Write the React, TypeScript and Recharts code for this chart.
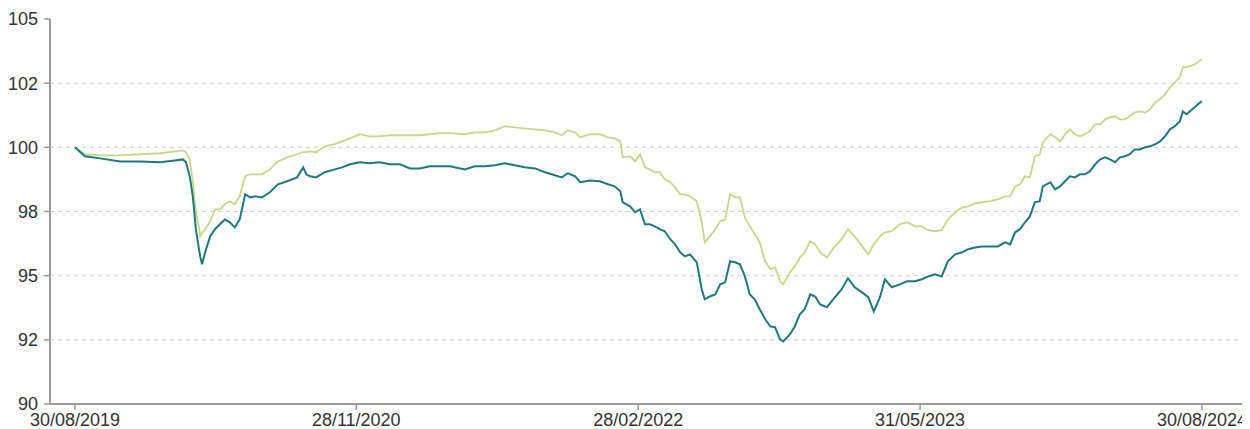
import React from 'react';
import { LineChart, Line, XAxis, YAxis, CartesianGrid } from 'recharts';

const START = Date.UTC(2019, 7, 30);
const DAY = 86400000;

// days since 30/08/2019
const dayOffsets = [
  0, 16, 41, 73, 105, 138, 162, 175, 180, 186, 191, 196, 201, 203, 206, 211, 219, 227, 235, 243,
  251, 259, 267, 276, 284, 292, 303, 316, 329, 344, 360, 370, 375, 381, 391, 405, 421, 433, 446, 462,
  478, 494, 511, 527, 543, 559, 575, 592, 608, 632, 648, 665, 681, 697, 713, 729, 746, 762, 778, 789,
  799, 811, 819, 835, 851, 864, 875, 884, 888, 900, 908, 916, 924, 932, 940, 948, 956, 965, 973, 981,
  989, 997, 1008, 1016, 1021, 1029, 1038, 1046, 1054, 1062, 1070, 1078, 1086, 1094, 1102, 1110, 1119, 1127, 1135, 1143,
  1148, 1159, 1167, 1175, 1183, 1192, 1200, 1208, 1219, 1232, 1243, 1253, 1264, 1276, 1286, 1295, 1305, 1313, 1324, 1337,
  1349, 1362, 1373, 1383, 1394, 1405, 1415, 1427, 1438, 1448, 1459, 1470, 1483, 1496, 1508, 1516, 1524, 1532, 1540, 1548,
  1556, 1564, 1569, 1581, 1589, 1597, 1605, 1613, 1621, 1629, 1637, 1645, 1654, 1662, 1670, 1678, 1686, 1694, 1702, 1710,
  1718, 1726, 1735, 1743, 1751, 1759, 1767, 1775, 1783, 1791, 1796, 1802, 1807, 1815, 1824, 1827,
];

// dark teal series
const fundValues = [
  100.0, 99.65, 99.57, 99.45, 99.45, 99.42, 99.49, 99.53, 99.42, 98.87, 98.09, 96.81, 96.03, 95.75, 95.44, 95.91, 96.53, 96.81, 97.0, 97.19,
  97.08, 96.88, 97.19, 98.17, 98.05, 98.09, 98.05, 98.25, 98.56, 98.68, 98.83, 99.22, 98.95, 98.87, 98.83, 99.03, 99.14, 99.22, 99.34, 99.42,
  99.38, 99.42, 99.34, 99.34, 99.18, 99.18, 99.26, 99.26, 99.26, 99.14, 99.26, 99.26, 99.3, 99.38, 99.3, 99.22, 99.18, 99.03, 98.91, 98.83,
  98.99, 98.87, 98.64, 98.71, 98.68, 98.56, 98.48, 98.29, 97.86, 97.7, 97.47, 97.58, 97.0, 97.0, 96.92, 96.81, 96.73, 96.42, 96.22, 95.91,
  95.75, 95.83, 95.52, 94.47, 94.08, 94.19, 94.27, 94.66, 94.74, 95.56, 95.52, 95.44, 94.97, 94.27, 94.08, 93.69, 93.3, 93.03, 92.99, 92.52,
  92.44, 92.71, 93.03, 93.49, 93.69, 94.27, 94.19, 93.88, 93.77, 94.16, 94.47, 94.9, 94.55, 94.35, 94.16, 93.61, 94.16, 94.86, 94.55, 94.66,
  94.78, 94.78, 94.86, 94.97, 95.05, 94.97, 95.56, 95.83, 95.91, 96.03, 96.1, 96.14, 96.14, 96.14, 96.3, 96.22, 96.69, 96.81, 97.08, 97.31,
  97.86, 97.9, 98.48, 98.64, 98.36, 98.48, 98.68, 98.87, 98.83, 98.95, 98.95, 99.06, 99.34, 99.53, 99.61, 99.53, 99.42, 99.61, 99.65, 99.73,
  99.92, 99.92, 100.0, 100.04, 100.12, 100.23, 100.43, 100.7, 100.82, 101.01, 101.4, 101.29, 101.4, 101.56, 101.75, 101.79,
];

// light green series
const benchmarkValues = [
  100.0, 99.73, 99.69, 99.69, 99.73, 99.77, 99.84, 99.88, 99.81, 99.53, 98.64, 97.47, 96.88, 96.53, 96.65, 96.81, 97.12, 97.58, 97.58, 97.78,
  97.9, 97.78, 98.09, 98.87, 98.95, 98.95, 98.95, 99.14, 99.45, 99.61, 99.73, 99.81, 99.81, 99.84, 99.81, 100.04, 100.12, 100.23, 100.35, 100.51,
  100.43, 100.43, 100.47, 100.47, 100.47, 100.47, 100.51, 100.55, 100.55, 100.51, 100.58, 100.58, 100.66, 100.82, 100.78, 100.74, 100.7, 100.66, 100.58, 100.47,
  100.66, 100.58, 100.39, 100.51, 100.51, 100.39, 100.35, 100.23, 99.61, 99.65, 99.45, 99.73, 99.22, 99.14, 99.03, 99.03, 98.75, 98.64, 98.44, 98.17,
  98.17, 98.09, 97.9, 97.08, 96.3, 96.53, 96.81, 97.12, 97.19, 98.17, 98.05, 98.05, 97.27, 96.92, 96.61, 96.3, 95.56, 95.25, 95.32, 94.78,
  94.66, 95.13, 95.36, 95.71, 95.91, 96.34, 96.22, 95.91, 95.71, 96.14, 96.42, 96.81, 96.53, 96.14, 95.83, 96.22, 96.53, 96.69, 96.73, 97.0,
  97.08, 96.92, 96.92, 96.77, 96.73, 96.77, 97.19, 97.47, 97.66, 97.7, 97.82, 97.86, 97.9, 97.97, 98.09, 98.09, 98.48, 98.56, 98.87, 98.83,
  99.65, 99.73, 100.19, 100.51, 100.39, 100.23, 100.51, 100.7, 100.51, 100.43, 100.51, 100.62, 100.9, 100.9, 101.09, 101.17, 101.21, 101.09, 101.09, 101.21,
  101.36, 101.4, 101.36, 101.48, 101.75, 101.87, 102.06, 102.34, 102.53, 102.73, 103.12, 103.12, 103.16, 103.23, 103.39, 103.43,
];

const xTickDates = ['2019-08-30', '2020-11-28', '2022-02-28', '2023-05-31', '2024-08-30'];
const yTickValues = [90, 92.5, 95, 97.5, 100, 102.5, 105];
const yTickLabels = ['90', '92', '95', '98', '100', '102', '105'];
const gridValues = [92.5, 95, 97.5, 100, 102.5];

const toTs = (s: string) => {
  const [y, m, d] = s.split('-').map(Number);
  return Date.UTC(y, m - 1, d);
};
const fmtDate = (t: number) => {
  const dt = new Date(t);
  const dd = String(dt.getUTCDate()).padStart(2, '0');
  const mm = String(dt.getUTCMonth() + 1).padStart(2, '0');
  return `${dd}/${mm}/${dt.getUTCFullYear()}`;
};

const data = dayOffsets.map((d, i) => ({
  t: START + d * DAY,
  fund: fundValues[i],
  bench: benchmarkValues[i],
}));

const xTicks = xTickDates.map(toTs);
const lastTs = START + dayOffsets[dayOffsets.length - 1] * DAY;
const xDomain = [START - 40.5 * DAY, lastTs + 74.6 * DAY];

const tickStyle = { fontFamily: '"Liberation Sans", Arial, sans-serif', fontSize: 18, fill: '#333333' };

export default function App() {
  return (
    <div style={{ width: 1242, height: 421 }}>
      <LineChart width={1242} height={421} data={data} margin={{ top: 11, right: 2, bottom: 0, left: 0 }}>
        <CartesianGrid
          vertical={false}
          horizontalValues={gridValues}
          stroke="#cfcfcf"
          strokeDasharray="4 4"
        />
        <XAxis
          dataKey="t"
          type="number"
          domain={xDomain}
          ticks={xTicks}
          tickFormatter={fmtDate}
          allowDataOverflow
          height={25}
          tick={tickStyle}
          tickSize={6}
          tickMargin={3}
          axisLine={{ stroke: '#9a9a9a', strokeWidth: 2 }}
          tickLine={{ stroke: '#9a9a9a', strokeWidth: 1.5 }}
          interval={0}
        />
        <YAxis
          type="number"
          domain={[90, 105]}
          ticks={yTickValues}
          tickFormatter={(v: number) => yTickLabels[yTickValues.indexOf(v)] ?? String(v)}
          width={42}
          tick={tickStyle}
          tickSize={6}
          tickMargin={6}
          axisLine={{ stroke: '#9a9a9a', strokeWidth: 2 }}
          tickLine={{ stroke: '#9a9a9a', strokeWidth: 1.5 }}
          interval={0}
        />
        <Line
          dataKey="bench"
          type="linear"
          stroke="#c5d889"
          strokeWidth={1.8}
          dot={false}
          isAnimationActive={false}
        />
        <Line
          dataKey="fund"
          type="linear"
          stroke="#1f797c"
          strokeWidth={2}
          dot={false}
          isAnimationActive={false}
        />
      </LineChart>
    </div>
  );
}
